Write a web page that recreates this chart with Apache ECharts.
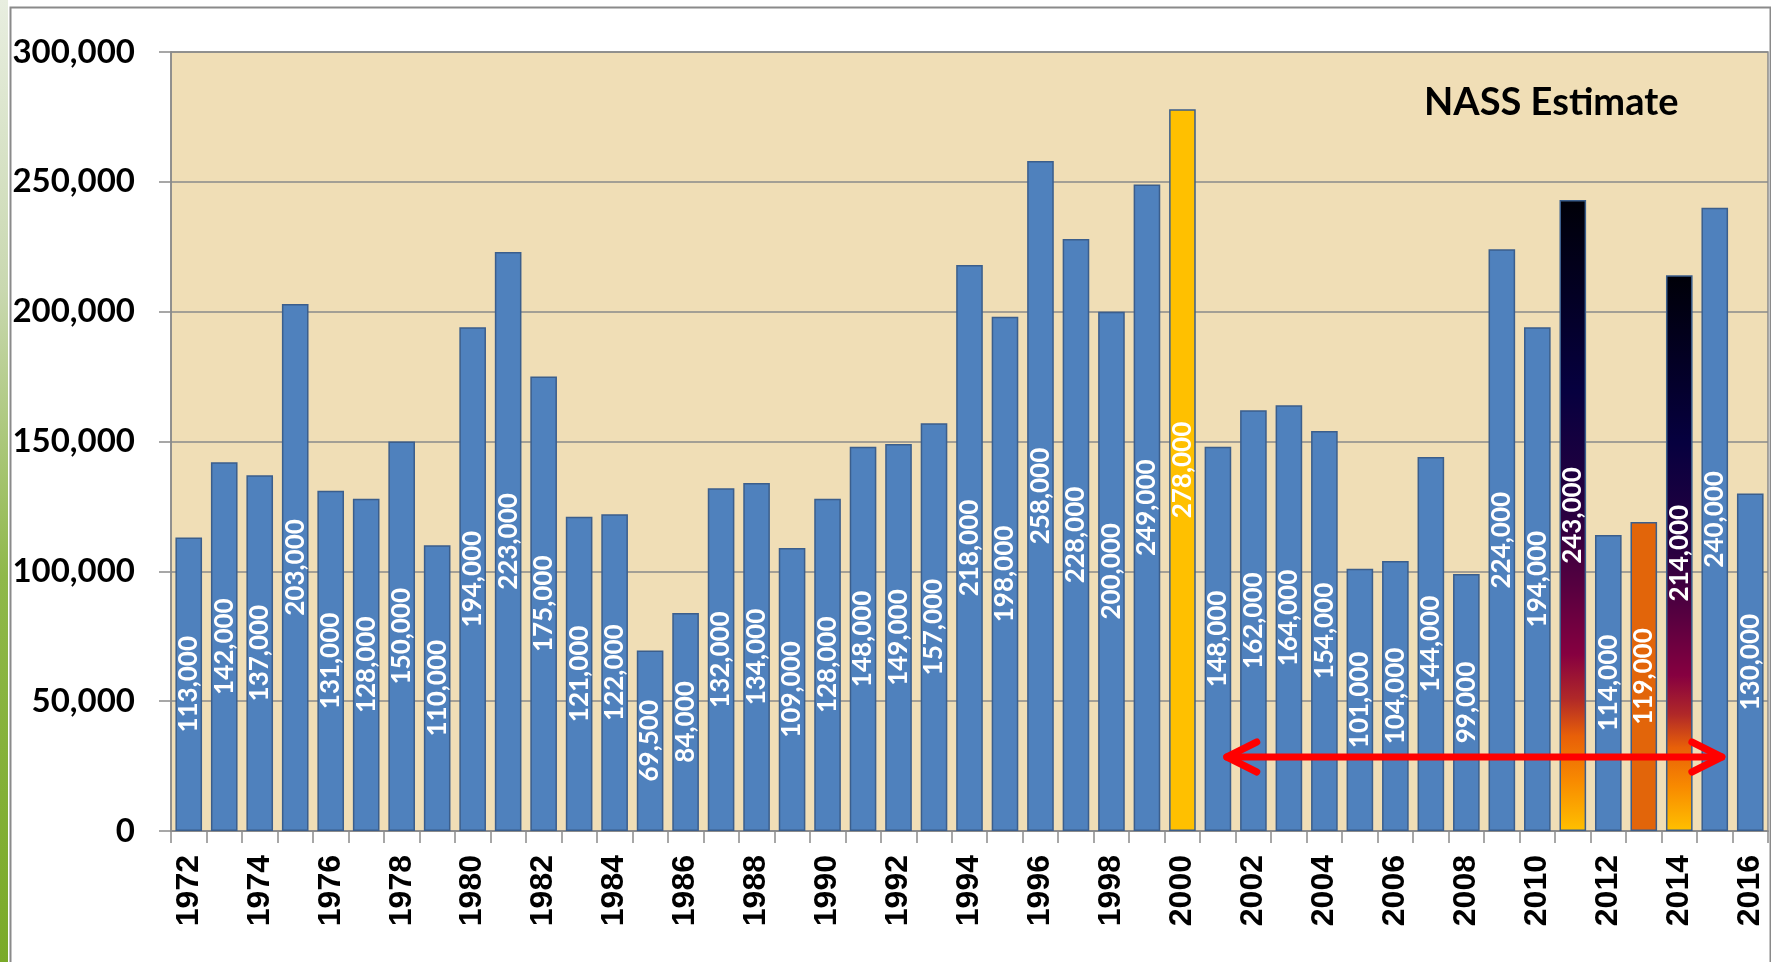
<!DOCTYPE html>
<html>
<head>
<meta charset="utf-8">
<script src="https://cdn.jsdelivr.net/npm/echarts@6/dist/echarts.min.js"></script>
<style>
html,body{margin:0;padding:0;background:#fff;}
#chart{width:1771px;height:962px;}
</style>
</head>
<body>
<div id="chart"></div>
<script>
const years = ['1972','1973','1974','1975','1976','1977','1978','1979','1980','1981','1982','1983','1984','1985','1986','1987','1988','1989','1990','1991','1992','1993','1994','1995','1996','1997','1998','1999','2000','2001','2002','2003','2004','2005','2006','2007','2008','2009','2010','2011','2012','2013','2014','2015','2016'];
const production = [113000,142000,137000,203000,131000,128000,150000,110000,194000,223000,175000,121000,122000,69500,84000,132000,134000,109000,128000,148000,149000,157000,218000,198000,258000,228000,200000,249000,278000,148000,162000,164000,154000,101000,104000,144000,99000,224000,194000,243000,114000,119000,214000,240000,130000];
const yTicks = [0,50000,100000,150000,200000,250000,300000];
const goldYears = ['2000'];
const orangeYears = ['2013'];
const fireYears = ['2011','2014'];
const arrowSpan = [['2001','2015',28500]];
const annotation = 'NASS Estimate';

const fmt = v => Number(v).toLocaleString('en-US');
const fire = {type:'linear',x:0,y:0,x2:0,y2:1,colorStops:[
  {offset:0,color:'#000008'},
  {offset:0.3,color:'#06003f'},
  {offset:0.5,color:'#2a0040'},
  {offset:0.62,color:'#5a0040'},
  {offset:0.72,color:'#860040'},
  {offset:0.79,color:'#b02828'},
  {offset:0.85,color:'#e86008'},
  {offset:0.92,color:'#f88a00'},
  {offset:1,color:'#ffc000'}]};

const barData = production.map((v,i)=>{
  const y = years[i];
  let color = '#4F81BD';
  if (goldYears.includes(y)) color = '#FFC000';
  else if (orangeYears.includes(y)) color = '#E2650A';
  else if (fireYears.includes(y)) color = fire;
  return {value:v,itemStyle:{color:color}};
});

const chart = echarts.init(document.getElementById('chart'));
chart.setOption({
  animation:false,
  backgroundColor:'#ffffff',
  graphic:[
    {type:'rect',left:0,top:0,shape:{width:8,height:962},
     style:{fill:{type:'linear',x:0,y:0,x2:0,y2:1,colorStops:[{offset:0,color:'#e8eee0'},{offset:0.3,color:'#c9d8b0'},{offset:0.6,color:'#8fb84a'},{offset:1,color:'#7aaa28'}]}},z:-10},
    {type:'rect',left:8,top:5,shape:{width:1760,height:970},style:{fill:'none',stroke:'#8a8a8a',lineWidth:2},z:-9}
  ],
  title:{text:annotation,left:1419,top:79,textStyle:{fontFamily:'Lato',fontWeight:'bold',fontSize:38,color:'#000'}},
  grid:{left:171,top:52,right:3,bottom:131,show:true,backgroundColor:'#F0DEB6',borderColor:'#8a8a8a',borderWidth:1.5},
  xAxis:{type:'category',data:years,
    axisLine:{lineStyle:{color:'#8a8a8a',width:1.5}},
    axisTick:{show:true,interval:0,length:12,lineStyle:{color:'#8a8a8a',width:1.5}},
    axisLabel:{interval:1,rotate:90,margin:24,fontFamily:'Liberation Sans',fontWeight:'bold',fontSize:32,color:'#000'}},
  yAxis:{type:'value',min:yTicks[0],max:yTicks[yTicks.length-1],interval:yTicks[1]-yTicks[0],
    axisLine:{show:true,lineStyle:{color:'#8a8a8a',width:1.5}},
    axisTick:{show:true,length:12,lineStyle:{color:'#8a8a8a',width:1.5}},
    splitLine:{lineStyle:{color:'#8a8a8a',width:1.5}},
    axisLabel:{margin:36,formatter:v=>fmt(v),fontFamily:'Lato',fontWeight:'bold',fontSize:33,color:'#000'}},
  series:[
    {type:'bar',data:barData,barCategoryGap:'25%',
     itemStyle:{borderColor:'#3B5E8C',borderWidth:1.5},
     label:{show:true,position:'inside',rotate:90,color:'#fff',fontFamily:'Lato',fontWeight:'bold',fontSize:26,formatter:p=>fmt(p.value)}},
    {type:'custom',data:arrowSpan,encode:{x:[0,1],y:2},z:10,
     renderItem:(params,api)=>{
       const band = api.size([1,0])[0];
       const a = api.coord([api.value(0),api.value(2)]);
       const b = api.coord([api.value(1),api.value(2)]);
       a[0] += band*0.25; b[0] += band*0.2;
       const st = {stroke:'#FF0000',lineWidth:7,lineCap:'round',lineJoin:'round',fill:'none'};
       return {type:'group',children:[
         {type:'polyline',shape:{points:[a,b]},style:st},
         {type:'polyline',shape:{points:[[a[0]+30,a[1]-15],a,[a[0]+30,a[1]+15]]},style:st},
         {type:'polyline',shape:{points:[[b[0]-30,b[1]-15],b,[b[0]-30,b[1]+15]]},style:st}
       ]};
     }}
  ]
});
</script>
</body>
</html>
